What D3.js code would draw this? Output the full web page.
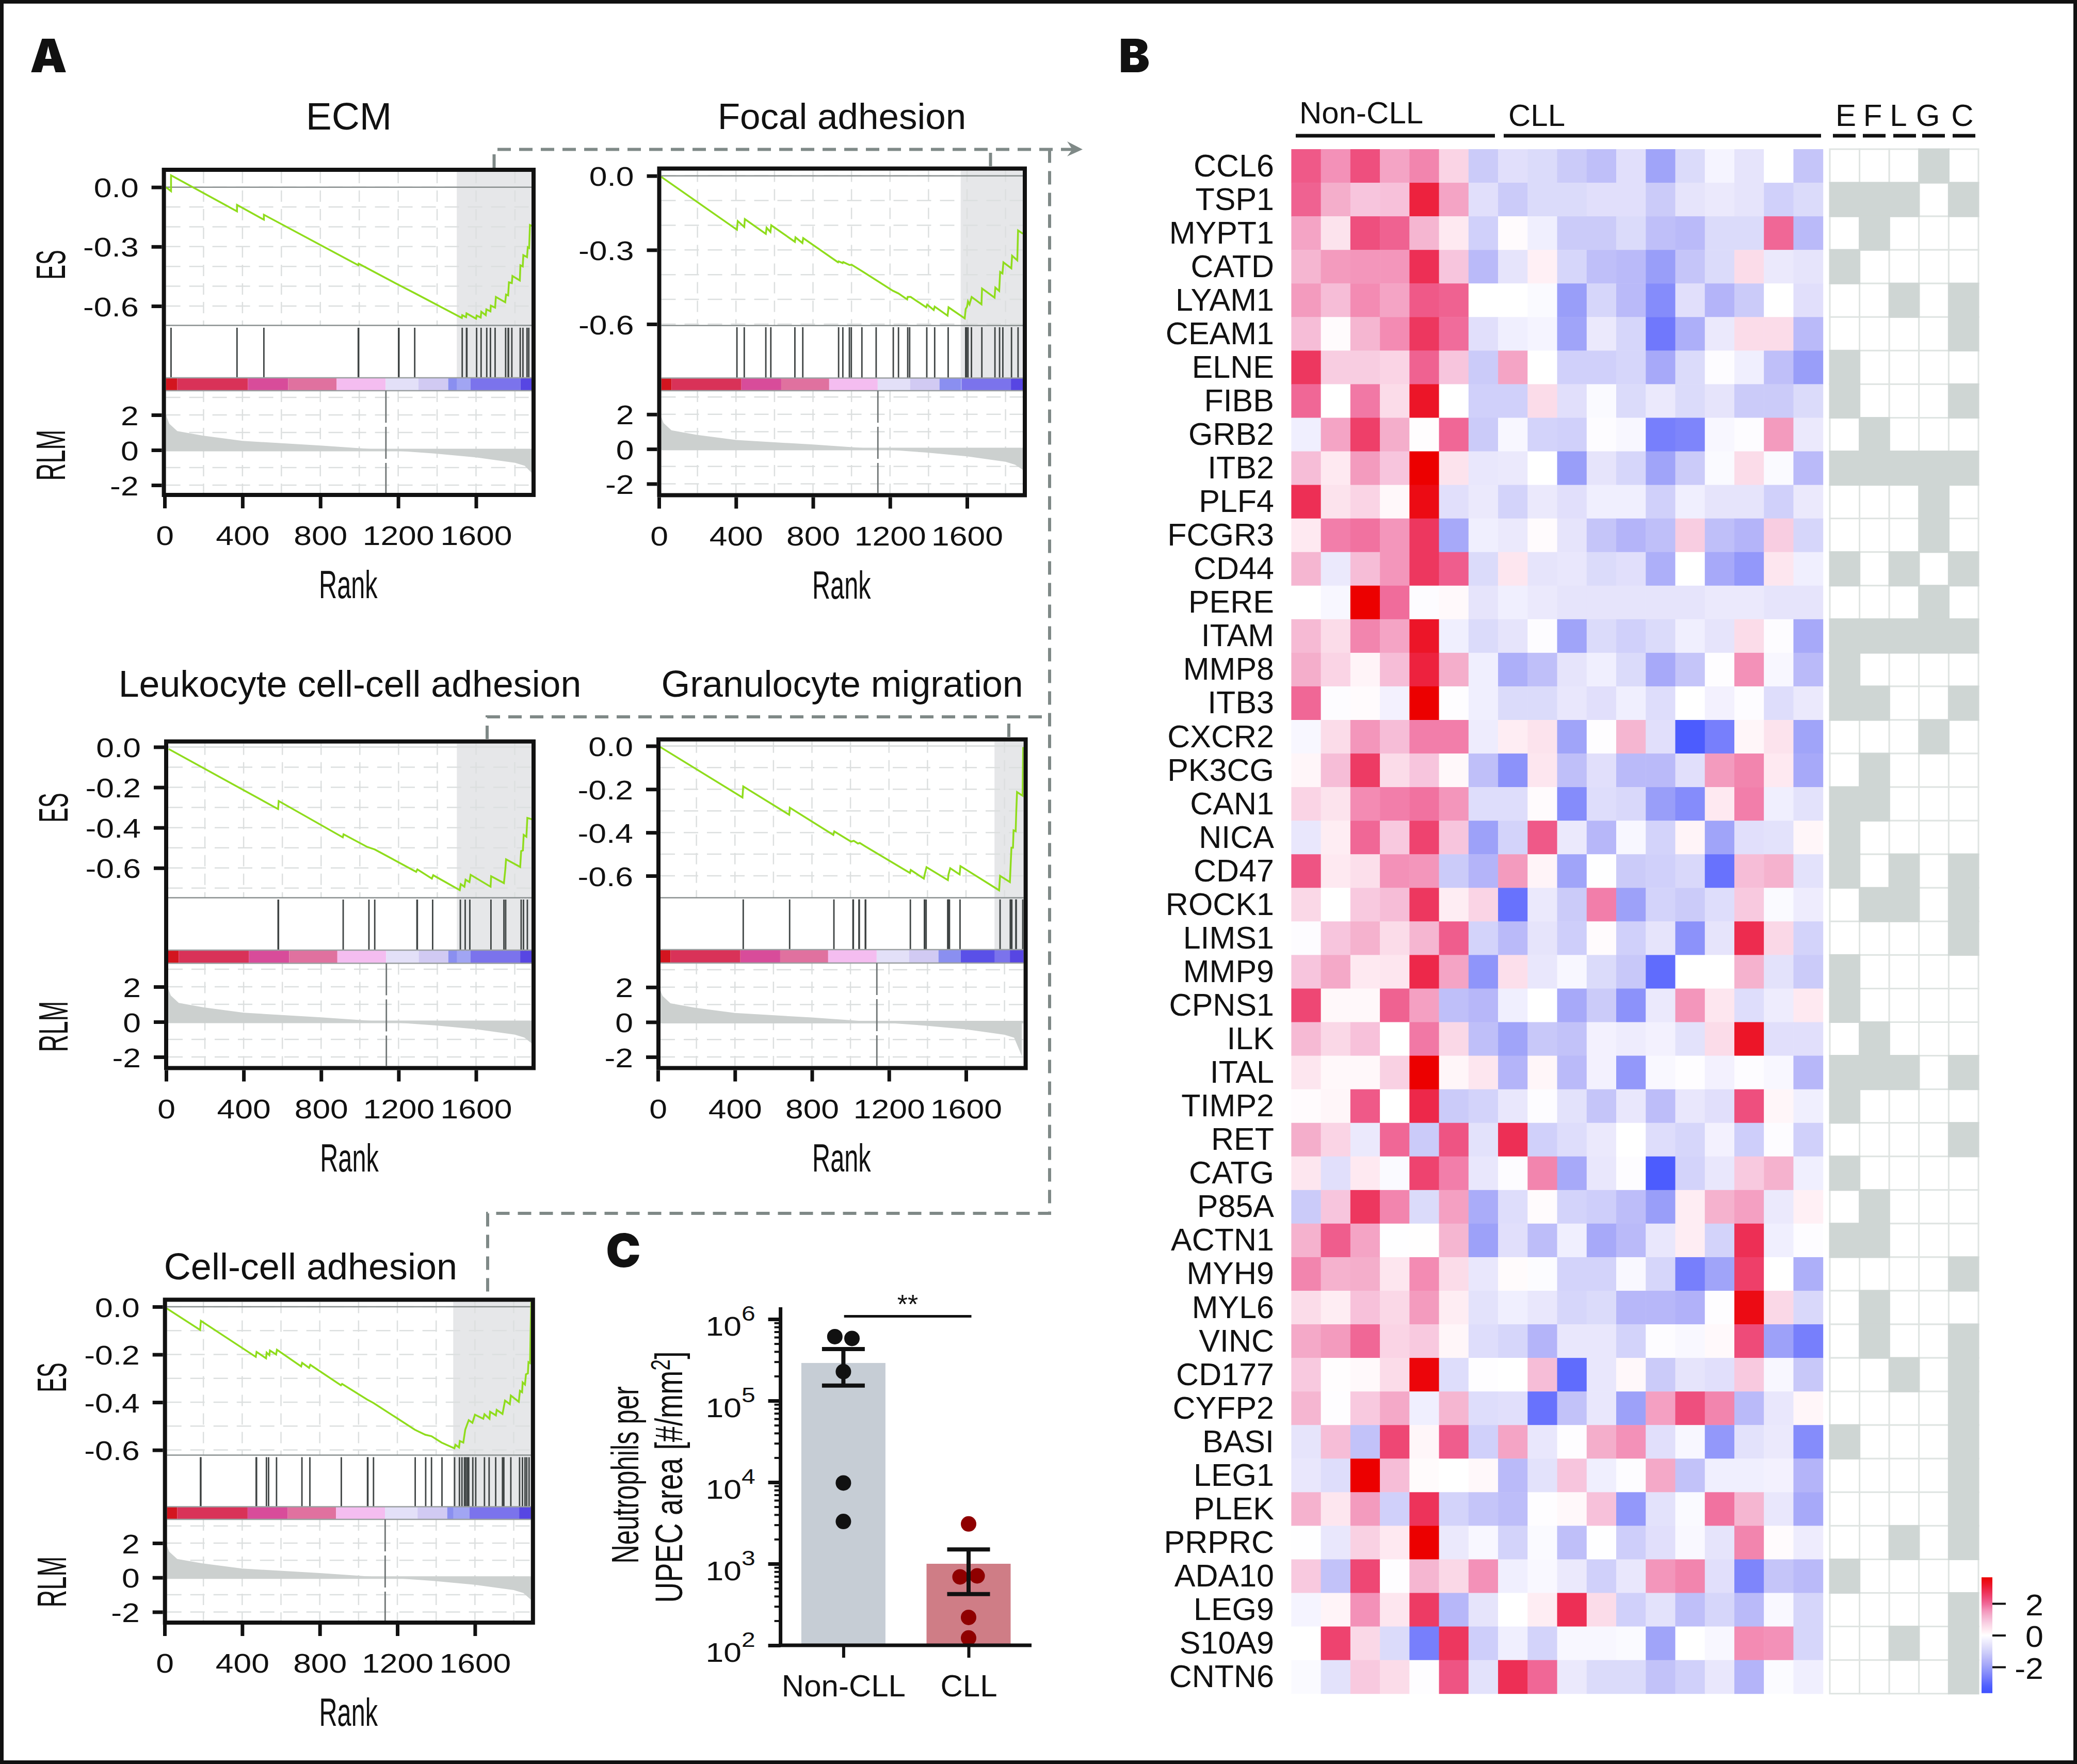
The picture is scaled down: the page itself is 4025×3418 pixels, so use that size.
<!DOCTYPE html>
<html><head><meta charset="utf-8">
<script src="https://cdn.jsdelivr.net/npm/d3@7/dist/d3.min.js"></script>
<style>html,body{margin:0;padding:0;background:#fff}svg{display:block}text{font-family:"Liberation Sans",Arial,sans-serif;fill:#111}</style>
</head><body><svg id="c" width="4025" height="3418"></svg>
<script>
// ---------- Panel A data ----------
const esEcm=[[7,0],[33,-.02],[33,.06],[372,-.122],[372,-.089],[510,-.164],[510,-.139],[995,-.394],[997,-.386],[1200,-.492],[1283,-.534],[1527,-.66],[1529,-.646],[1549,-.656],[1551,-.637],[1600,-.664],[1603,-.648],[1624,-.658],[1627,-.629],[1650,-.646],[1653,-.617],[1674,-.627],[1676,-.598],[1698,-.608],[1702,-.554],[1750,-.581],[1754,-.542],[1765,-.546],[1769,-.48],[1784,-.484],[1787,-.448],[1825,-.471],[1828,-.394],[1840,-.4],[1843,-.343],[1862,-.353],[1866,-.303],[1873,-.307],[1877,-.191],[1890,-.197]];
const hitsEcm=[33,372,510,995,997,1202,1204,1285,1529,1551,1553,1603,1626,1655,1674,1698,1752,1765,1767,1784,1827,1841,1862,1871];
const esFocal=[[10,-.003],[405,-.218],[409,-.183],[443,-.207],[446,-.175],[555,-.235],[559,-.21],[579,-.227],[583,-.2],[706,-.267],[709,-.249],[745,-.272],[749,-.252],[930,-.35],[933,-.346],[954,-.353],[957,-.349],[990,-.361],[1001,-.36],[1053,-.385],[1130,-.423],[1215,-.465],[1244,-.476],[1289,-.5],[1292,-.49],[1307,-.49],[1388,-.532],[1393,-.521],[1427,-.543],[1432,-.529],[1499,-.566],[1504,-.532],[1588,-.577],[1593,-.539],[1600,-.53],[1605,-.508],[1613,-.52],[1624,-.49],[1675,-.52],[1678,-.456],[1743,-.493],[1747,-.452],[1767,-.466],[1772,-.389],[1784,-.395],[1789,-.35],[1830,-.374],[1834,-.323],[1861,-.342],[1865,-.221],[1890,-.234]];
const hitsFocal=[405,443,555,581,706,747,933,955,989,999,1054,1128,1217,1244,1292,1302,1391,1432,1502,1593,1598,1605,1623,1677,1745,1769,1786,1831,1865];
const esLeuko=[[13,-.01],[578,-.308],[581,-.268],[912,-.448],[916,-.433],[1039,-.496],[1077,-.508],[1291,-.619],[1297,-.607],[1372,-.653],[1379,-.636],[1516,-.71],[1521,-.68],[1540,-.693],[1546,-.658],[1566,-.67],[1572,-.634],[1675,-.693],[1678,-.641],[1744,-.675],[1751,-.609],[1755,-.557],[1828,-.595],[1833,-.516],[1842,-.513],[1846,-.436],[1860,-.445],[1865,-.352],[1890,-.359]];
const hitsLeuko=[578,580,914,1047,1077,1295,1297,1376,1519,1544,1568,1677,1744,1753,1833,1845,1865];
const esGranulo=[[12,-.005],[439,-.238],[443,-.187],[682,-.318],[685,-.285],[911,-.411],[916,-.395],[1003,-.442],[1017,-.438],[1039,-.451],[1048,-.448],[1077,-.464],[1309,-.587],[1313,-.573],[1381,-.613],[1386,-.592],[1395,-.56],[1506,-.62],[1509,-.594],[1518,-.565],[1567,-.594],[1571,-.555],[1772,-.667],[1777,-.6],[1828,-.629],[1832,-.549],[1836,-.47],[1844,-.47],[1847,-.39],[1858,-.394],[1861,-.304],[1865,-.213],[1894,-.23],[1897,-.005]];
const hitsGranulo=[443,684,914,1013,1015,1044,1046,1077,1079,1311,1384,1386,1393,1505,1508,1511,1514,1569,1777,1830,1833,1838,1859,1861,1895];
const esCell=[[11,-.007],[183,-.097],[187,-.059],[470,-.21],[474,-.189],[523,-.216],[526,-.192],[540,-.203],[543,-.183],[575,-.2],[579,-.18],[704,-.25],[709,-.235],[745,-.256],[751,-.243],[909,-.329],[915,-.323],[1045,-.389],[1077,-.403],[1290,-.515],[1344,-.536],[1376,-.542],[1428,-.569],[1494,-.593],[1499,-.578],[1518,-.589],[1522,-.562],[1540,-.569],[1550,-.515],[1568,-.475],[1587,-.486],[1600,-.452],[1643,-.469],[1649,-.45],[1675,-.469],[1678,-.44],[1708,-.455],[1712,-.432],[1742,-.449],[1755,-.393],[1780,-.408],[1785,-.372],[1826,-.398],[1832,-.352],[1843,-.358],[1846,-.317],[1858,-.326],[1863,-.283],[1873,-.279],[1876,-.232],[1884,-.236],[1887,-.1],[1890,.02]];
const hitsCell=[185,187,472,474,525,536,577,708,749,911,1046,1048,1077,1292,1346,1376,1430,1495,1520,1533,1546,1553,1561,1568,1589,1604,1649,1673,1707,1742,1749,1785,1830,1845,1858,1867,1879];
const rlmRank=[7,24,65,195,400,800,1137,1386,1600,1800,1850,1890];
const rlmValue=[2.0,1.5,1.08,.82,.52,.26,0,-.2,-.42,-.73,-.9,-1.35];
const barBreaks=[0,65,428,635,884,1136,1304,1457,1572,1828,1900];
const barColors=["#d3151f","#d93258","#d84c9a","#e0719f","#f4bdf0","#e3e0f8","#d1caf3","#8a8ff0","#5a50e8","#2d18dc"];
// ---------- Panel B data ----------
const genes=["CCL6","TSP1","MYPT1","CATD","LYAM1","CEAM1","ELNE","FIBB","GRB2","ITB2","PLF4","FCGR3","CD44","PERE","ITAM","MMP8","ITB3","CXCR2","PK3CG","CAN1","NICA","CD47","ROCK1","LIMS1","MMP9","CPNS1","ILK","ITAL","TIMP2","RET","CATG","P85A","ACTN1","MYH9","MYL6","VINC","CD177","CYFP2","BASI","LEG1","PLEK","PRPRC","ADA10","LEG9","S10A9","CNTN6"];
const heatValues=[
[1.9,1.4,2.0,1.2,1.5,.6,-1.0,-.6,-.7,-1.0,-1.2,-.6,-1.7,-.7,-.2,-.5,0,-1.1],
[1.8,1.1,.8,.85,2.6,1.2,-.6,-1.0,-.7,-.7,-.6,-.6,-1.0,-.5,-.4,-.5,-.9,-.7],
[1.2,.4,2.0,1.8,1.0,.3,-.9,.05,-.3,-1.0,-1.0,-.7,-1.2,-1.3,-.7,-.7,1.75,-1.3],
[1.0,1.3,1.35,1.35,2.4,.8,-1.3,-.5,.2,-.8,-1.2,-1.3,-1.8,-1.1,-.7,.5,-.4,-.5],
[1.3,.9,1.45,1.2,1.9,1.8,0,0,-.1,-1.8,-.8,-1.3,-2.1,-.6,-1.4,-1.0,0,-.6],
[.9,.05,1.0,1.45,2.3,1.7,-.6,-.3,-.2,-1.7,-.4,-.8,-2.4,-1.5,-.4,.5,.5,-1.3],
[2.3,.7,.7,.6,1.8,.8,-1.0,1.2,0,-.9,-.9,-.8,-1.6,-.7,-.05,-.3,-1.2,-1.8],
[1.75,0,1.6,.5,2.8,0,-.9,-.9,.5,-.6,-.1,-.7,-.4,-.7,-.5,-1.0,-1.0,-.7],
[-.3,1.2,2.2,1.1,.03,1.75,-1.0,-.15,-.85,-.9,-.05,-.15,-2.3,-2.2,-.15,-.05,1.3,-.4],
[.9,.3,1.3,.8,3.2,.4,-.45,-.4,0,-1.8,-.5,-.8,-1.7,-1.0,-.1,.5,-.1,-1.3],
[2.4,.4,.6,.1,3.0,-.6,-.4,-.85,-.4,-.6,-.3,-.3,-.9,-.3,-.5,-.5,-.9,-.4],
[.3,1.55,1.65,1.35,2.3,-1.6,-.3,-.4,.05,-.5,-1.1,-1.4,-1.2,.7,-1.2,-1.4,.7,-.8],
[1.0,-.4,.9,1.35,2.3,1.85,-.7,.35,-.5,-.45,-.7,-.6,-1.5,0,-1.6,-1.9,.35,-.3],
[0,-.15,3.2,1.7,-.05,.08,-.5,-.3,-.4,-.5,-.5,-.5,-.5,-.5,-.4,-.4,-.5,-.5],
[.95,.5,1.5,1.2,2.8,-.3,-.7,-.5,-.05,-1.7,-.7,-.9,-.7,-.3,-.5,.5,-.05,-1.6],
[1.1,.6,.15,.9,2.6,1.1,-.3,-1.5,-1.2,-.5,-.3,-.7,-1.6,-1.1,-.03,1.4,-.15,-1.3],
[1.75,-.05,.05,-.25,3.2,-.03,-.3,-.7,-.7,-.45,-.6,-.3,-.65,0,-.25,-.05,-.65,-.4],
[-.15,.5,1.35,.9,1.55,1.55,-.35,.25,.4,-1.7,-.03,1.0,-.6,-2.9,-2.3,.12,.4,-1.7],
[.12,.9,2.25,.5,.8,.1,-1.2,-2.0,.35,-1.2,-.6,-1.3,-1.3,-.6,1.3,1.5,.3,-1.6],
[.6,.4,1.45,1.55,1.65,1.35,-.65,-.65,.05,-2.1,-.65,-.75,-1.8,-2.1,.3,1.55,-.3,-.55],
[-.45,.25,1.75,.75,2.15,.8,-1.75,-.85,1.9,-.4,-1.35,-.15,-.85,.15,-1.7,-.6,-.55,.12],
[1.95,.3,.45,1.4,1.35,-1.0,-1.4,1.3,.15,-1.7,-.02,-1.0,-.9,-.75,-2.5,.9,1.05,-.55],
[.55,0,.75,.9,2.3,.25,.6,-2.5,-.4,-1.0,1.55,-1.75,-.85,-1.0,-.65,.75,-.1,-.35],
[-.05,.8,1.05,.5,1.0,1.85,-.85,-1.3,-.5,-.95,.05,-.9,-.5,-2.0,-.5,2.45,.55,-.85],
[.8,1.15,.3,.35,2.5,1.2,-1.95,.45,-.45,-.15,-.7,-1.05,-2.6,0,0,1.05,-.55,-1.0],
[2.1,.1,.1,1.8,1.25,-1.2,-1.35,-.3,0,-1.6,-1.0,-2.0,-.4,1.35,.35,-.65,-.35,.3],
[.95,.55,.85,0,1.6,.55,-1.2,-1.7,-1.05,-1.15,-.25,-.35,-.25,-.55,.5,2.8,-.6,-.6],
[.35,.1,.1,.65,3.2,.12,.35,-1.4,.12,-1.3,-.25,-1.9,-.12,-.03,-.25,-.05,-.15,-1.35],
[.05,.12,1.9,0,2.5,-1.0,-.85,-.45,-.05,-.55,-1.1,-.45,-1.25,-.45,-.6,2.0,.12,-.3],
[1.1,.6,-.4,1.75,-1.0,1.95,-.55,2.4,-.9,-.65,-.4,0,-.65,-.8,-.25,-.95,-.05,-.9],
[.35,-.6,.3,-.1,2.15,1.55,-.45,-.05,1.5,-1.6,-.45,-.05,-2.9,-.85,-.45,.75,1.05,-.3],
[-1.0,.8,2.3,1.5,-.7,1.25,-1.55,-.65,.05,-.85,-.95,-1.25,-1.8,.25,1.05,1.25,-.4,.2],
[1.05,1.85,1.2,-.02,.02,1.0,-1.75,-.6,-1.25,-.3,-1.6,-1.3,-.45,.25,-.85,2.4,-.3,-.05],
[1.5,1.05,1.1,.35,1.45,.5,-.45,.06,-.06,-.85,-.85,-.12,-.8,-2.3,-1.7,2.2,0,-1.5],
[.5,.25,.85,.55,1.3,.25,-.55,-.3,-.45,-.8,-.7,-1.35,-1.35,-1.45,-.03,3.0,.55,-.75],
[1.15,1.3,1.75,.6,.75,.12,-.65,-.8,-1.4,-.45,-.45,-.85,-.05,-.12,.08,2.05,-1.75,-2.3],
[.75,.03,.08,.5,3.1,-.65,-.03,0,.9,-2.6,-.45,.1,-1.0,-.5,-.6,.75,-.15,-1.05],
[1.0,-.03,.75,1.15,-.3,1.0,-.65,-.6,-2.5,-1.15,-.45,-1.75,1.25,2.0,1.5,-1.3,-.45,.12],
[-.5,.9,-1.15,2.1,.12,1.85,-.9,1.2,-.45,-.03,1.1,1.4,-.6,-.15,-1.9,-.55,-.4,-2.1],
[-.45,-.65,3.2,.9,.06,0,.1,-1.3,-.55,.8,-.3,-.05,1.15,-1.15,-.3,-.3,-.25,-1.4],
[1.05,.35,1.3,-.9,2.35,-.85,-1.1,-1.25,-.03,.1,.85,-1.9,-.55,-.1,1.65,1.0,-.45,-1.6],
[-.02,-.45,.65,.3,3.2,-.4,-.15,-.85,-.1,-1.2,-.02,-.95,-.6,-.12,-.5,1.5,.05,-.35],
[.75,-1.15,2.1,-.03,1.0,.55,1.4,-.3,-.12,-.4,-.9,-.45,1.35,1.5,-.6,-2.2,-1.1,-1.3],
[-.2,.15,1.4,.35,2.25,-1.35,-.5,0,.25,2.4,.5,-.9,-.55,-1.2,-.8,-1.3,-.12,-.8],
[0,2.15,.55,-.7,-2.3,2.3,-.95,-.3,-.85,-.15,-.15,-.1,-1.7,0,-.15,1.45,1.4,-.8],
[-.1,-.55,.75,.5,-.03,1.95,-.55,2.4,1.75,-.4,-.7,-.7,-1.15,-.9,-.45,-1.4,-.08,-.3]];
const termNames=["E","F","L","G","C"];
const termFlags=["00010","11101","01000","10000","00101","00001","10000","10001","01000","11111","00010","00010","10101","00010","11111","10000","11001","00010","01000","11000","10000","10101","01101","00001","10000","10000","01000","11101","10000","00001","10000","01000","11000","00001","01000","01001","00101","00001","10001","00001","00001","00101","10000","00001","00101","00001"];
const heatLevels=[-3.2,-2.8,-2.4,-2,-1.7,-1.4,-1.1,-.8,-.5,-.2,0,.2,.5,.8,1.1,1.4,1.7,2,2.4,2.8,3.2];
const heatColors=["#3f50ff","#5060fe","#7078fc","#8c92fa","#a0a4f9","#b4b4f9","#c5c5f9","#d6d6fa","#e6e4fb","#f5f4ff","#ffffff","#fff0f5","#fbdce9","#f7c5dd","#f4aecb","#f391b8","#f06c9b","#ee4f7e","#ed2f55","#ec1528","#ec0000"];
const legendTicks=[2,0,-2];
// ---------- Panel C data ----------
const groups=["Non-CLL","CLL"];
const groupMeans=[2.9e5,1000];
const groupErrHigh=[4.3e5,1.5e3];
const groupErrLow=[1.53e5,4.25e2];
const dotsNonCll=[[-1,6.1e5],[1,5.8e5],[0,2.27e5],[0,9.8e3],[0,3.3e3]];
const dotsCll=[[0,3.08e3],[-1,6.9e2],[1,7.1e2],[0,2.2e2],[0,1.23e2]];
const neutroTicks=[1e2,1e3,1e4,1e5,1e6];
const esTicksWide=[0,-.3,-.6];
const esTicksFine=[0,-.2,-.4,-.6];
const rankTicks=[0,400,800,1200,1600];
const rlmTicks=[2,0,-2];

const svg=d3.select("#c");
svg.append("rect").attr("x",3.5).attr("y",3.5).attr("width",4018).attr("height",3411).attr("fill","#fff").attr("stroke","#111").attr("stroke-width",7);

function label(parent,x,y,s,o={}){
  const sx=o.sx||1,rot=o.rot?` rotate(${o.rot})`:"";
  return parent.append("text").attr("transform",`translate(${x},${y})${rot} scale(${sx},1)`)
    .attr("text-anchor",o.anchor||"middle").attr("font-size",o.size||60).attr("font-weight",o.weight||400)
    .style("font-family",o.family||null).text(s);
}
const defs=svg.append("defs");
const tickSx=1.2,tickSize=52;

const panels=[
 {id:"ecm",title:"ECM",titleSize:75,titleX:676,titleY:251,es:esEcm,hits:hitsEcm,shade:1501,zeroDark:true,esTicks:esTicksWide,rlmEnd:-1.35,
  L:313.6,R:1038,T:325,B:963,x0:319,x1600:922.5,es0:362.7,esAt:-.6,esAtY:593,esB:630.6,hitT:635,barT:732,barB:757,r2:804,rm2:940,esLab:513,rlmLab:882,labX:126,axisL:true},
 {id:"focal",title:"Focal adhesion",titleSize:71,titleX:1631.5,titleY:250,es:esFocal,hits:hitsFocal,shade:1567,zeroDark:true,esTicks:esTicksWide,rlmEnd:-1.2,
  L:1273.5,R:1990,T:322.6,B:963.5,x0:1277,x1600:1874,es0:340.7,esAt:-.6,esAtY:628,esB:630.7,hitT:634,barT:732.5,barB:757,r2:802.8,rm2:937.4},
 {id:"leuko",title:"Leukocyte cell-cell adhesion",titleSize:71.7,titleX:678,titleY:1350,es:esLeuko,hits:hitsLeuko,shade:1501,esTicks:esTicksFine,rlmEnd:-1.25,
  L:318,R:1038,T:1432.7,B:2073.5,x0:322,x1600:922.5,es0:1447.4,esAt:-.6,esAtY:1681.8,esB:1739.4,hitT:1743,barT:1841,barB:1866.6,r2:1912,rm2:2048,esLab:1565,rlmLab:1989,labX:131,axisL:true},
 {id:"granulo",title:"Granulocyte migration",titleSize:71.7,titleX:1632,titleY:1350,es:esGranulo,hits:hitsGranulo,shade:1748,esTicks:esTicksFine,rlmEnd:-1.95,
  L:1272,R:1991.6,T:1428.7,B:2073.5,x0:1275,x1600:1872,es0:1445.4,esAt:-.6,esAtY:1697,esB:1739.4,hitT:1742.7,barT:1840,barB:1866,r2:1912.8,rm2:2048},
 {id:"cell",title:"Cell-cell adhesion",titleSize:72,titleX:602,titleY:2479,es:esCell,hits:hitsCell,shade:1488,zeroDark:true,esTicks:esTicksFine,rlmEnd:-1.3,
  L:315.7,R:1036.8,T:2514.4,B:3148,x0:319,x1600:920.4,es0:2532,esAt:-.6,esAtY:2809.6,esB:2819.6,hitT:2823.5,barT:2919.5,barB:2944,r2:2990,rm2:3123.4,esLab:2669,rlmLab:3065,labX:128,axisL:true}
];
const sw=8;
panels.forEach(p=>{
  const g=svg.append("g");
  const x=d3.scaleLinear().domain([0,1600]).range([p.x0,p.x1600]);
  const yE=d3.scaleLinear().domain([0,p.esAt]).range([p.es0,p.esAtY]);
  const yR=d3.scaleLinear().domain([2,-2]).range([p.r2,p.rm2]);
  const iL=p.L+sw,iR=p.R-sw,iT=p.T+sw,iB=p.B-sw;
  defs.append("clipPath").attr("id","clip-"+p.id).append("rect").attr("x",iL).attr("y",iT).attr("width",iR-iL).attr("height",iB-iT);
  const c=g.append("g").attr("clip-path",`url(#clip-${p.id})`);
  c.append("rect").attr("x",x(p.shade)).attr("y",iT).attr("width",iR-x(p.shade)).attr("height",p.barT-iT).attr("fill","#e6e7e9");
  const grid=c.append("g").attr("stroke","#dcdfdf").attr("stroke-width",2.5).attr("fill","none").attr("stroke-dasharray","28 17");
  const esFine=d3.range(0,8).map(i=>-i/10).filter(v=>yE(v)<p.esB-2);
  grid.selectAll(".h").data(esFine).join("line").attr("x1",iL).attr("x2",iR).attr("y1",d=>yE(d)).attr("y2",d=>yE(d));
  grid.selectAll(".h2").data([3,2,1,-1,-2]).join("line").attr("x1",iL).attr("x2",iR).attr("y1",d=>yR(d)).attr("y2",d=>yR(d));
  const vs=d3.range(200,1900,200);
  grid.selectAll(".v").data(vs).join("line").attr("x1",d=>x(d)).attr("x2",d=>x(d)).attr("y1",iT).attr("y2",p.esB).attr("stroke-dasharray","22 14");
  grid.selectAll(".v2").data(vs).join("line").attr("x1",d=>x(d)).attr("x2",d=>x(d)).attr("y1",p.barB).attr("y2",iB).attr("stroke-dasharray","22 14");
  c.append("line").attr("x1",iL).attr("x2",iR).attr("y1",yE(0)).attr("y2",yE(0)).attr("stroke",p.zeroDark?"#8a9090":"#dcdfdf").attr("stroke-width",p.zeroDark?2.5:3);
  c.append("line").attr("x1",iL).attr("x2",iR).attr("y1",p.esB).attr("y2",p.esB).attr("stroke","#8a9090").attr("stroke-width",2.5);
  c.append("g").attr("stroke","#3f4444").attr("stroke-width",2.8).selectAll("line").data(p.hits).join("line")
    .attr("x1",d=>x(d)).attr("x2",d=>x(d)).attr("y1",p.hitT).attr("y2",p.barT);
  const bar=c.append("g");
  bar.selectAll("rect").data(barColors).join("rect").attr("x",(d,i)=>x(barBreaks[i])).attr("y",p.barT)
    .attr("width",(d,i)=>x(barBreaks[i+1])-x(barBreaks[i])).attr("height",p.barB-p.barT).attr("fill",d=>d);
  c.append("rect").attr("x",x(p.shade)).attr("y",p.barT).attr("width",iR-x(p.shade)).attr("height",p.barB-p.barT).attr("fill","#fff").attr("opacity",.2);
  c.append("line").attr("x1",iL).attr("x2",iR).attr("y1",p.barT).attr("y2",p.barT).attr("stroke","#9a9fa0").attr("stroke-width",2.5);
  c.append("line").attr("x1",iL).attr("x2",iR).attr("y1",p.barB).attr("y2",p.barB).attr("stroke","#9a9fa0").attr("stroke-width",2.5);
  const vals=rlmValue.slice();vals[vals.length-1]=p.rlmEnd;
  const rlmData=rlmRank.map((r,i)=>[r,vals[i]]);
  c.append("path").datum(rlmData).attr("fill","#ccd0cf").attr("d",d3.area().x(d=>x(d[0])).y0(yR(0)).y1(d=>yR(d[1])));
  c.append("rect").attr("x",iL).attr("width",x(rlmRank[0])-iL+1).attr("y",yR(rlmValue[0])).attr("height",yR(0)-yR(rlmValue[0])).attr("fill","#ccd0cf");
  c.append("line").attr("x1",iL).attr("x2",iR).attr("y1",yR(0)).attr("y2",yR(0)).attr("stroke","#ccd0cf").attr("stroke-width",5);
  c.append("line").attr("x1",x(1137)).attr("x2",x(1137)).attr("y1",p.barB).attr("y2",iB).attr("stroke","#6f7575").attr("stroke-width",2.8).attr("stroke-dasharray","62 8");
  c.append("path").datum(p.es).attr("fill","none").attr("stroke","#8fdc1c").attr("stroke-width",3.5)
    .attr("d",d3.line().x(d=>x(d[0])).y(d=>yE(d[1])));
  g.append("rect").attr("x",p.L+sw/2).attr("y",p.T+sw/2).attr("width",p.R-p.L-sw).attr("height",p.B-p.T-sw).attr("fill","none").attr("stroke","#111").attr("stroke-width",sw);
  const fmtAxis=(sel,dx,dy,anchor)=>{
    sel.select(".domain").remove();
    sel.selectAll(".tick line").attr("stroke","#111").attr("stroke-width",7);
    sel.selectAll(".tick text").attr("x",0).attr("y",0).attr("dy",0).attr("text-anchor",anchor)
      .attr("transform",`translate(${dx},${dy}) scale(${tickSx},1)`).attr("font-size",tickSize)
      .style("font-family",'"Liberation Sans"').style("fill","#111");
  };
  const ax=g.append("g").attr("transform",`translate(0,${p.B})`).call(d3.axisBottom(x).tickValues(rankTicks).tickSize(22).tickFormat(d3.format("d")));
  fmtAxis(ax,0,93,"middle");
  const ay1=g.append("g").attr("transform",`translate(${p.L},0)`).call(d3.axisLeft(yE).tickValues(p.esTicks).tickSize(20).tickFormat(d=>d3.format(".1f")(d).replace("−","-")));
  fmtAxis(ay1,-45,19,"end");
  const ay2=g.append("g").attr("transform",`translate(${p.L},0)`).call(d3.axisLeft(yR).tickValues(rlmTicks).tickSize(20).tickFormat(d=>String(d)));
  fmtAxis(ay2,-45,19,"end");
  label(g,p.titleX,p.titleY,p.title,{size:p.titleSize});
  label(g,(p.L+p.R)/2-1,p.B+196,"Rank",{size:76,sx:.64});
  if(p.axisL){
    label(g,p.labX,p.esLab,"ES",{size:80,sx:.54,rot:-90});
    label(g,p.labX,p.rlmLab,"RLM",{size:80,sx:.585,rot:-90});
  }
});
const conn=svg.append("g").attr("fill","none").attr("stroke","#7f8987").attr("stroke-width",6).attr("stroke-dasharray","26 16");
conn.append("path").attr("d","M957.5,325V289.5H2082");
conn.append("path").attr("d","M1919.5,322V292");
conn.append("path").attr("d","M2034,289.5V2351H945V2514");
conn.append("path").attr("d","M944,1432V1389H2034");
conn.append("path").attr("d","M1955,1428V1392");
svg.append("path").attr("d","M2068,274L2098,289.5L2068,303L2078,289.5Z").attr("fill","#7f8987");
[["A",94,140],["B",2198,140],["C",1208,2455]].forEach(d=>{
  label(svg,d[1],d[2],d[0],{size:90,weight:900,family:'"Inter","Liberation Sans"'});
});

// ---------- Panel B ----------
const colX=d3.scaleBand().domain(d3.range(18)).range([2502.4,3532.7]);
const rowY=d3.scaleBand().domain(genes).range([289,3281.7]);
const heatColor=d3.scaleLinear().domain(heatLevels).range(heatColors).clamp(true);
const heat=svg.append("g");
heat.selectAll("g").data(heatValues).join("g").attr("transform",(d,i)=>`translate(0,${rowY(genes[i])})`)
  .selectAll("rect").data(d=>d).join("rect").attr("x",(d,i)=>colX(i)).attr("width",colX.bandwidth()+.5).attr("height",rowY.bandwidth()+.5).attr("fill",d=>heatColor(d));
genes.forEach(g=>label(svg,2469,rowY(g)+rowY.bandwidth()/2+20,g,{size:61,anchor:"end"}));
label(svg,2518,239,"Non-CLL",{size:60,anchor:"start"});
label(svg,2923,244,"CLL",{size:60,anchor:"start"});
const hdr=svg.append("g").attr("stroke","#111").attr("stroke-width",7);
hdr.append("line").attr("x1",2511).attr("x2",2897).attr("y1",263).attr("y2",263);
hdr.append("line").attr("x1",2914).attr("x2",3529).attr("y1",263).attr("y2",263);
const termX=d3.scaleBand().domain(termNames).range([3546,3834]);
const termHdrX=[3574,3632,3691,3747,3806];
termNames.forEach((t,i)=>{
  label(svg,[3577,3629,3679,3736,3803][i],244,t,{size:60});
  hdr.append("line").attr("x1",termHdrX[i]-22).attr("x2",termHdrX[i]+22).attr("y1",263).attr("y2",263);
});
const cells=genes.flatMap((g,r)=>termNames.map((t,c)=>({g,t,on:termFlags[r][c]==="1"})));
const cellG=svg.append("g");
cellG.selectAll("rect").data(cells.filter(d=>!d.on).concat(cells.filter(d=>d.on))).join("rect")
  .attr("x",d=>termX(d.t)).attr("y",d=>rowY(d.g)).attr("width",termX.bandwidth()).attr("height",rowY.bandwidth())
  .attr("fill",d=>d.on?"#cfd6d4":"#fff").attr("stroke",d=>d.on?"#cfd6d4":"#dfe4e2").attr("stroke-width",3);
const lg=defs.append("linearGradient").attr("id","lg").attr("x1",0).attr("x2",0).attr("y1",1).attr("y2",0);
heatLevels.forEach((v,i)=>lg.append("stop").attr("offset",(v+3.2)/6.4).attr("stop-color",heatColors[i]));
const legY=d3.scaleLinear().domain([2,-2]).range([3107,3230]);
svg.append("rect").attr("x",3840).attr("y",legY(3.65)).attr("width",21).attr("height",legY(-3.65)-legY(3.65)).attr("fill","url(#lg)");
const legAx=svg.append("g").attr("transform","translate(3861,0)").call(d3.axisRight(legY).tickValues(legendTicks).tickSize(26).tickFormat(d=>String(d)));
legAx.select(".domain").remove();
legAx.selectAll(".tick line").attr("stroke","#111").attr("stroke-width",4);
legAx.selectAll(".tick text").attr("x",0).attr("y",0).attr("dy",0).attr("text-anchor","end")
  .attr("transform","translate(99,22) scale(1.1,1)").attr("font-size",57).style("font-family",'"Liberation Sans"').style("fill","#111");

// ---------- Panel C ----------
const cx=d3.scalePoint().domain(groups).range([1634.4,1877]);
const cy=d3.scaleLog().domain([100,1e6]).range([3188,2556]);
const bw=163;
const bars=svg.append("g");
bars.selectAll("rect").data(groups).join("rect").attr("x",d=>cx(d)-bw/2).attr("width",bw)
  .attr("y",(d,i)=>cy(groupMeans[i])).attr("height",(d,i)=>cy(100)-cy(groupMeans[i])).attr("fill",(d,i)=>["#c6cdd5","#cf7d86"][i]);
const spread=16.6;
[[dotsNonCll,"#111",groups[0]],[dotsCll,"#8f0000",groups[1]]].forEach(([pts,col,g])=>{
  svg.append("g").attr("fill",col).selectAll("circle").data(pts).join("circle").attr("cx",d=>cx(g)+d[0]*spread).attr("cy",d=>cy(d[1])).attr("r",15);
});
const err=svg.append("g").attr("stroke","#111").attr("stroke-width",8);
groups.forEach((g,i)=>{
  err.append("line").attr("x1",cx(g)).attr("x2",cx(g)).attr("y1",cy(groupErrHigh[i])).attr("y2",cy(groupErrLow[i])).attr("stroke-width",8);
  [groupErrHigh[i],groupErrLow[i]].forEach(v=>err.append("line").attr("x1",cx(g)-41.5).attr("x2",cx(g)+41.5).attr("y1",cy(v)).attr("y2",cy(v)));
});
const minorTicks=[2,3,4,5,6,7,8,9].flatMap(m=>[1e2,1e3,1e4,1e5].map(k=>m*k));
const cAxM=svg.append("g").attr("transform","translate(1512.6,0)").call(d3.axisLeft(cy).tickValues(minorTicks).tickSize(12).tickFormat(""));
cAxM.select(".domain").remove();cAxM.selectAll(".tick line").attr("stroke","#111").attr("stroke-width",4);
const cAx=svg.append("g").attr("transform","translate(1512.6,0)").call(d3.axisLeft(cy).tickValues(neutroTicks).tickSize(24).tickFormat(""));
cAx.select(".domain").remove();cAx.selectAll(".tick line").attr("stroke","#111").attr("stroke-width",7);
cAx.selectAll(".tick text").each(function(d){
  const t=d3.select(this).attr("x",0).attr("y",0).attr("dy",0).attr("text-anchor","end")
    .attr("transform",`translate(-49,31) scale(${tickSx},1)`).style("font-family",'"Liberation Sans"').style("fill","#111").attr("font-size",tickSize);
  t.append("tspan").text("10");
  t.append("tspan").attr("dy",-29).attr("font-size",40).text(Math.round(Math.log10(d)));
});
svg.append("line").attr("x1",1512.6).attr("x2",1512.6).attr("y1",2533).attr("y2",3191).attr("stroke","#111").attr("stroke-width",7);
const cAxB=svg.append("g").attr("transform","translate(0,3188)").call(d3.axisBottom(cx).tickSize(24).tickPadding(0));
cAxB.select(".domain").remove();cAxB.selectAll(".tick line").attr("stroke","#111").attr("stroke-width",6);
cAxB.selectAll(".tick text").attr("y",99).attr("dy",0).attr("font-size",60).style("font-family",'"Liberation Sans"').style("fill","#111");
svg.append("line").attr("x1",1509).attr("x2",1999).attr("y1",3188).attr("y2",3188).attr("stroke","#111").attr("stroke-width",7);
svg.append("line").attr("x1",1635.7).attr("x2",1882.5).attr("y1",2550.6).attr("y2",2550.6).attr("stroke","#111").attr("stroke-width",5);
label(svg,1759,2545,"**",{size:52});
label(svg,1237,2858,"Neutrophils per",{size:74,sx:.685,rot:-90});
const yt=label(svg,1322,2862,"",{size:74,sx:.75,rot:-90});
yt.append("tspan").text("UPEC area [#/mm");
yt.append("tspan").attr("dy",-24).attr("font-size",52).text("2");
yt.append("tspan").attr("dy",24).text("]");
</script></body></html>
